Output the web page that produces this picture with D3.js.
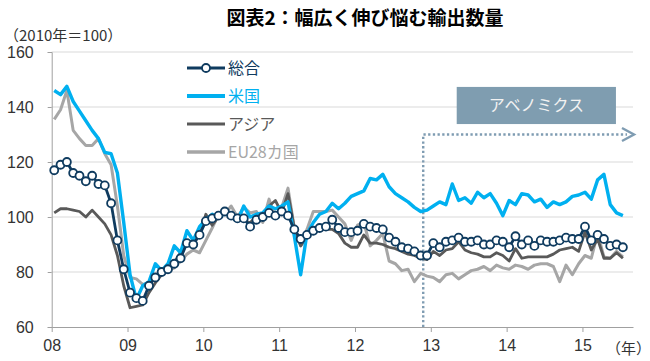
<!DOCTYPE html>
<html>
<head>
<meta charset="utf-8">
<script src="https://cdn.jsdelivr.net/npm/d3@7"></script>
<style>
  body { margin: 0; background: #fff; }
  text { font-family: "Noto Sans CJK JP", "Liberation Sans", sans-serif; }
</style>
</head>
<body>
<script>
'use strict';

// monthly index 0 = Jan 2008 ... 90 = Jul 2015
const yearLabels = ["08", "09", "10", "11", "12", "13", "14", "15"];
const yTicks = [60, 80, 100, 120, 140, 160];

const total = [
  117, 119, 120, 116, 115, 113, 115, 112, 111.5, 105, 91.5, 81,
  72.5, 70.5, 69.5, 75, 78, 80, 81, 83, 85, 90.5, 90, 93.5,
  98.5, 99.5, 100.5, 102, 100.5, 99.5, 99.5, 96.5, 99, 100, 101.5, 100.5,
  102, 100.5, 95.5, 92, 93.5, 95, 96, 96.5, 99, 96, 94.5, 94.5,
  95, 97.5, 96.5, 96, 95.5, 92.5, 91, 89, 88.5, 87.5, 86, 86,
  90.5, 89, 91, 91.5, 92.5, 91, 91, 91.5, 90, 90, 91.5, 91,
  89, 93, 90, 91.5, 89.5, 91.5, 91, 91, 91.5, 92.5, 92, 92,
  96.5, 91.5, 93.5, 92, 89.5, 90, 89
];
const us = [
  146, 144.5, 147.5, 142, 138.5, 135, 131.5, 128.5, 123.5, 123, 116, 98,
  79, 70, 75, 76.5, 83, 80.5, 83, 89.5, 87, 95, 91.5, 96.5,
  99, 101, 99.5, 101.5, 100, 98.5, 104, 100, 101, 101.5, 104, 103,
  104, 105.5, 93, 79, 94, 98, 101, 102, 105, 103, 105, 107.5,
  108.5, 109.5, 114, 113.5, 115.5, 111, 108.5, 107, 105.5, 103.5, 102, 102.5,
  104, 105.5, 104.5, 112, 106, 107, 105, 109, 107, 108.5, 105, 100.5,
  106, 104.5, 108.5, 108, 105.5, 106.5, 103.5, 105.5, 104.5, 105.5, 107.5, 108,
  109, 106.5, 113.5, 115.5, 104.5, 101.5, 100.5
];
const asia = [
  101.5, 103, 103, 102.5, 102, 100, 102.5, 100, 97.5, 93.5, 86, 75,
  67, 67.5, 68, 72.5, 76, 79, 80.5, 83.5, 87, 90, 91.5, 93,
  101, 97, 100, 101.5, 100, 99, 98.5, 98, 100, 101, 104, 106,
  101.5, 108.5, 96, 89.5, 92.5, 95, 95.5, 95.5, 95.5, 94, 90.5, 89,
  89, 93.5, 90.5, 90.5, 90, 89, 88.5, 87.5, 86.5, 86, 85, 84.5,
  87.5, 86, 88, 88.5, 91, 88, 87, 86.5, 85.5, 85.5, 87, 86,
  84, 88.5, 85, 85.5, 85.5, 85.5, 85.5, 86.5, 88, 88.5, 89, 87.5,
  94.5, 88, 92, 85, 85, 87, 85
];
const eu = [
  135.5, 139, 146, 131.5, 128.5, 126, 126, 128.5, 123, 119, 104, 86,
  78, 77.5, 75.5, 76, 77.5, 79, 80.5, 81.5, 84, 86.5, 88, 87,
  91.5, 96, 101, 101, 104, 100, 103.5, 101.5, 102, 98, 106.5, 100,
  103.5, 110.5, 96, 89.5, 95.5, 102, 102, 102, 102.5, 100, 97.5, 91.5,
  97, 98, 89.5, 91.5, 94, 84, 83, 80.5, 81, 76.5, 79.5, 78.5,
  78, 76.5, 79, 79.5, 77.5, 79, 80.5, 81, 82, 80.5, 82.5, 81.5,
  81, 82.5, 82, 81, 82.5, 83, 83, 82, 76.5, 82.5, 79, 83,
  86, 85, 94, 85.5, 85, 87.5, 85.5
];

const seriesNames = ["総合", "米国", "アジア", "EU28カ国"];
const seriesColors = ["#0f3b5f", "#00b0f0", "#595959", "#a6a6a6"];

// Abenomics annotation (in data units)
const abeMonth = 58.8;
const abeArrowValue = 130;
const abeBox = { m0: 64.1, m1: 89.3, v0: 147.3, v1: 133.8 };

const svg = d3.select('body')
  .append('svg')
  .attr('width', 650)
  .attr('height', 361);

const x = d3.scaleLinear().domain([0, 92]).range([51.7, 633]);
const y = d3.scaleLinear().domain([60, 160]).range([327, 52]);
const xPos = (i) => x(i + 0.4);

// title
svg.append('text')
  .attr('x', 365)
  .attr('y', 25)
  .attr('text-anchor', 'middle')
  .style('font-size', '19px')
  .style('font-weight', 'bold')
  .attr('fill', '#000')
  .text('図表2：幅広く伸び悩む輸出数量');

svg.append('text')
  .attr('x', 4)
  .attr('y', 41)
  .style('font-size', '15px')
  .attr('fill', '#333')
  .text('（2010年＝100）');

// gridlines
svg.append('g')
  .selectAll('line')
  .data(yTicks.slice(1))
  .enter()
  .append('line')
  .attr('x1', x(0))
  .attr('x2', x(92))
  .attr('y1', d => y(d))
  .attr('y2', d => y(d))
  .attr('stroke', '#d9d9d9')
  .attr('stroke-width', 1);

// axes
let yAxis = d3.axisLeft(y).tickValues(yTicks).tickSize(4).tickPadding(14);
let yg = svg.append('g')
  .attr('transform', 'translate(' + x(0) + ',0)')
  .call(yAxis);

let xAxis = d3.axisBottom(x)
  .tickValues(yearLabels.map((d, i) => i * 12))
  .tickFormat((d, i) => yearLabels[i])
  .tickSize(5)
  .tickSizeOuter(0)
  .tickPadding(8);
let xg = svg.append('g')
  .attr('transform', 'translate(0,' + y(60) + ')')
  .call(xAxis);

[yg, xg].forEach(g => {
  g.selectAll('path, line').attr('stroke', '#a0a0a0');
  g.selectAll('text')
    .style('font-family', '"Liberation Sans", sans-serif')
    .style('font-size', '16px')
    .attr('fill', '#333');
});

svg.append('text')
  .attr('x', 606)
  .attr('y', 354)
  .style('font-size', '15px')
  .attr('fill', '#333')
  .text('（年）');

// Abenomics annotation
const dotColor = '#7f9cb2';
svg.append('path')
  .attr('d', 'M' + x(abeMonth) + ',' + y(60) + 'V' + y(abeArrowValue) + 'H' + (x(92) - 6))
  .attr('fill', 'none')
  .attr('stroke', dotColor)
  .attr('stroke-width', 2.4)
  .attr('stroke-dasharray', '2.3,2.4');
svg.append('path')
  .attr('d', 'M' + (x(92) - 11) + ',' + (y(abeArrowValue) - 6.5) +
    'L' + (x(92) + 1) + ',' + y(abeArrowValue) +
    'L' + (x(92) - 11) + ',' + (y(abeArrowValue) + 6.5))
  .attr('fill', 'none')
  .attr('stroke', dotColor)
  .attr('stroke-width', 2.4);

svg.append('rect')
  .attr('x', x(abeBox.m0))
  .attr('y', y(abeBox.v0))
  .attr('width', x(abeBox.m1) - x(abeBox.m0))
  .attr('height', y(abeBox.v1) - y(abeBox.v0))
  .attr('fill', '#7f9db0');
svg.append('text')
  .attr('x', (x(abeBox.m0) + x(abeBox.m1)) / 2)
  .attr('y', (y(abeBox.v0) + y(abeBox.v1)) / 2)
  .attr('dy', '0.36em')
  .attr('text-anchor', 'middle')
  .style('font-size', '16px')
  .attr('fill', '#f2f2f2')
  .text('アベノミクス');

// series lines, drawn back to front
let line = d3.line().x((d, i) => xPos(i)).y(d => y(d));
const allSeries = [total, us, asia, eu];
const widths = [2.8, 3.4, 2.8, 3];
[3, 2, 1, 0].forEach(k => {
  svg.append('path')
    .datum(allSeries[k])
    .attr('d', line)
    .attr('fill', 'none')
    .attr('stroke', seriesColors[k])
    .attr('stroke-width', widths[k])
    .attr('stroke-linejoin', 'round');
});

svg.append('g')
  .selectAll('circle')
  .data(total)
  .enter()
  .append('circle')
  .attr('cx', (d, i) => xPos(i))
  .attr('cy', d => y(d))
  .attr('r', 4)
  .attr('fill', '#fff')
  .attr('stroke', seriesColors[0])
  .attr('stroke-width', 1.8);

// legend
let legend = svg.append('g')
  .selectAll('g')
  .data(seriesNames)
  .enter()
  .append('g')
  .attr('transform', (d, i) => 'translate(187,' + (68 + i * 28) + ')');

legend.append('line')
  .attr('x1', 0)
  .attr('x2', 38)
  .attr('stroke', (d, i) => seriesColors[i])
  .attr('stroke-width', (d, i) => widths[i] + 0.4);

legend.filter((d, i) => i === 0)
  .append('circle')
  .attr('cx', 19)
  .attr('r', 4)
  .attr('fill', '#fff')
  .attr('stroke', seriesColors[0])
  .attr('stroke-width', 1.8);

legend.append('text')
  .attr('x', 41)
  .attr('dy', '0.36em')
  .style('font-size', '16px')
  .attr('fill', (d, i) => seriesColors[i])
  .text(d => d);
</script>
</body>
</html>
